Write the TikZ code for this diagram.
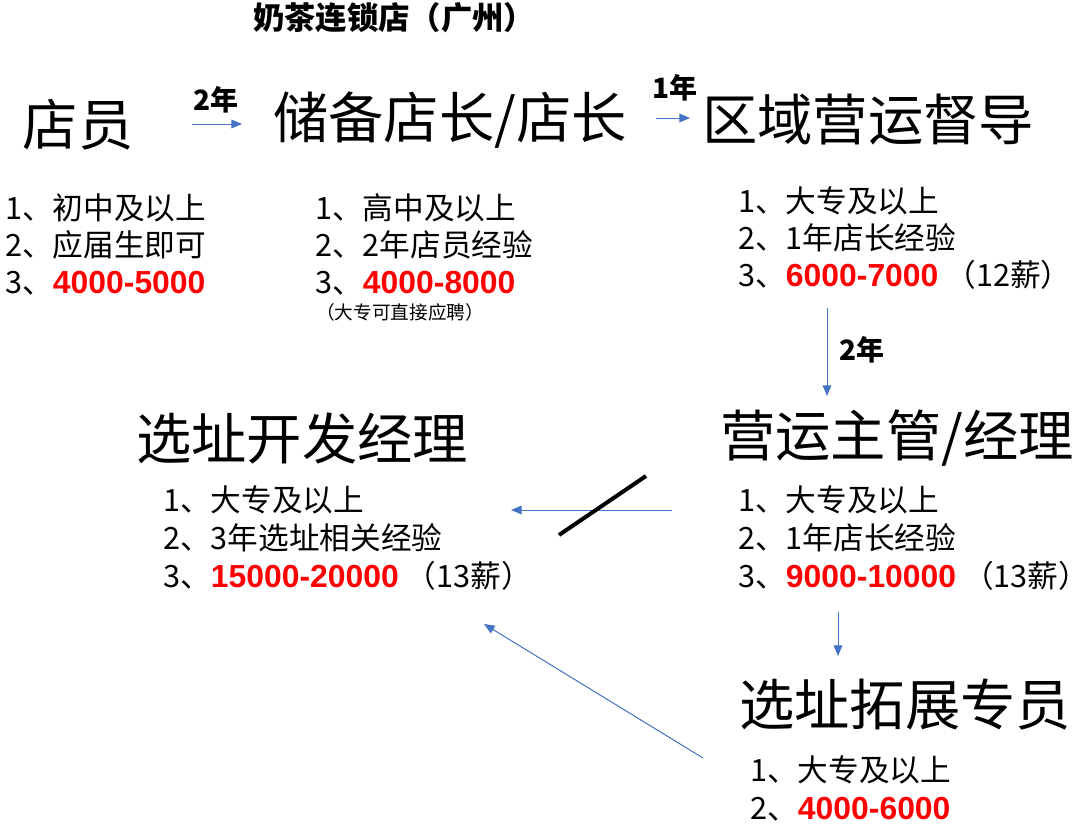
\documentclass[tikz,border=0pt]{standalone}
\usepackage{fontspec}
\setmainfont{Noto Sans CJK SC}
\newfontfamily\numfont{Liberation Sans}[Scale=1.04]
\usetikzlibrary{arrows.meta}
\definecolor{flowblue}{HTML}{4472C4}
\newcommand{\salary}[1]{{\numfont\bfseries\color{red}#1}}

\begin{document}
\begin{tikzpicture}[x=0.75pt,y=-0.75pt,
  head/.style={font=\fontsize{41.5}{44}\selectfont,inner sep=0},
  item/.style={anchor=base west,font=\fontsize{23}{26}\selectfont,inner sep=0},
  years/.style={font=\bfseries\fontsize{21}{23}\selectfont,inner sep=0},
  flow/.style={flowblue,line width=0.75pt,-{Triangle[length=8pt,width=6.5pt]}}]
\useasboundingbox (0,0) rectangle (1080,826);
% title
\node[font=\bfseries\fontsize{23.5}{25}\selectfont] (title) at (394,18) {奶茶连锁店（广州）};
% job titles
\node[head] (clerk) at (78,125) {店员};
\node[head] (storemgr) at (450,120) {储备店长/店长};
\node[head] (supervisor) at (868,120) {区域营运督导};
\node[head] (opsmgr) at (897,438) {营运主管/经理};
\node[head] (sitemgr) at (302,438) {选址开发经理};
\node[head] (sitespec) at (905,705) {选址拓展专员};
% requirements
\foreach \t [count=\i] in {{1、初中及以上},{2、应届生即可},{3、\salary{4000-5000}}}
  \node[item] (clerk-\i) at (5,{219+37*(\i-1)}) {\t};
\foreach \t [count=\i] in {{1、高中及以上},{2、2年店员经验},{3、\salary{4000-8000}}}
  \node[item] (storemgr-\i) at (315,{219+37*(\i-1)}) {\t};
\node[font=\fontsize{14}{16}\selectfont,inner sep=0] (direct) at (400,312) {（大专可直接应聘）};
\foreach \t [count=\i] in {{1、大专及以上},{2、1年店长经验},{3、\salary{6000-7000} （12薪）}}
  \node[item] (supervisor-\i) at (738,{212+37*(\i-1)}) {\t};
\foreach \t [count=\i] in {{1、大专及以上},{2、1年店长经验},{3、\salary{9000-10000} （13薪）}}
  \node[item] (opsmgr-\i) at (738,{511+38*(\i-1)}) {\t};
\foreach \t [count=\i] in {{1、大专及以上},{2、3年选址相关经验},{3、\salary{15000-20000} （13薪）}}
  \node[item] (sitemgr-\i) at (163,{511+38*(\i-1)}) {\t};
\foreach \t [count=\i] in {{1、大专及以上},{2、\salary{4000-6000}}}
  \node[item] (sitespec-\i) at (750,{781+38*(\i-1)}) {\t};
% arrow ends
\coordinate (a1) at (192,124); \coordinate (b1) at (242,124);
\coordinate (a2) at (656,118); \coordinate (b2) at (690,118);
\coordinate (a3) at (827,308); \coordinate (b3) at (827,396);
\coordinate (a4) at (672,510); \coordinate (b4) at (511,510);
\coordinate (a5) at (838,612); \coordinate (b5) at (838,656);
\coordinate (a6) at (703,758); \coordinate (b6) at (484,624);
\coordinate (s1) at (559,535); \coordinate (s2) at (646,476);
\draw[flow] (a1) -- (b1);
\draw[flow] (a2) -- (b2);
\draw[flow] (a3) -- (b3);
\draw[flow] (a4) -- (b4);
\draw[flow] (a5) -- (b5);
\draw[flow] (a6) -- (b6);
\draw[line width=3pt] (s1) -- (s2);
\node[years] (y1) at (216,100) {2年};
\node[years] (y2) at (675,88) {1年};
\node[years] (y3) at (862,350) {2年};
\end{tikzpicture}
\end{document}
